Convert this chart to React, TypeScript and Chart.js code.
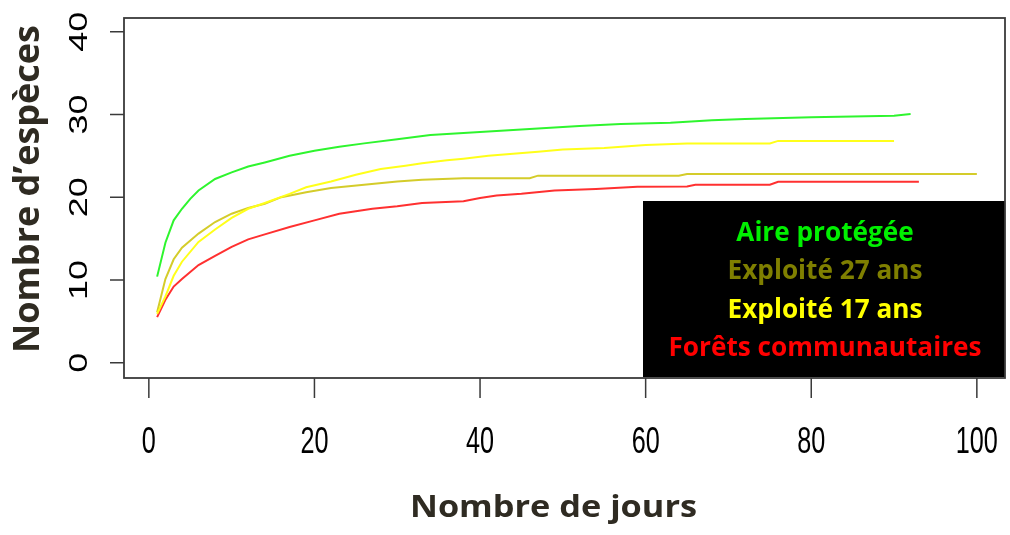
import React, { useEffect, useRef } from "react";
import { Chart, registerables } from "chart.js";

Chart.register(...registerables);

// ---- Data ----
const xTickValues = [0, 20, 40, 60, 80, 100];
const yTickValues = [0, 10, 20, 30, 40];
const xTitle = "Nombre de jours";
const yTitle = "Nombre d\u2019esp\u00e8ces";
const seriesNames = ["Aire prot\u00e9g\u00e9e", "Exploit\u00e9 27 ans", "Exploit\u00e9 17 ans", "For\u00eats communautaires"];

const aireDays = [1, 2, 3, 4, 5, 6, 8, 10, 12, 14, 17, 20, 23, 26, 30, 34, 38, 42, 47, 52, 57, 63, 68, 72, 80, 90, 92];
const aireValues = [10.4, 14.5, 17.2, 18.6, 19.8, 20.8, 22.2, 23.0, 23.7, 24.2, 25.0, 25.6, 26.1, 26.5, 27.0, 27.5, 27.75, 28.0, 28.3, 28.6, 28.85, 29.0, 29.3, 29.45, 29.65, 29.85, 30.05];

const exp27Days = [1, 2, 3, 4, 6, 8, 10, 12, 14, 16, 19, 22, 26, 30, 33, 38, 46, 47, 64, 65, 100];
const exp27Values = [6.1, 10.1, 12.5, 13.9, 15.6, 17.0, 18.0, 18.7, 19.2, 20.0, 20.6, 21.1, 21.5, 21.9, 22.1, 22.3, 22.3, 22.6, 22.6, 22.8, 22.8];

const exp17Days = [1, 2, 3, 4, 6, 8, 10, 12, 14, 17, 19, 22, 25, 28, 31, 33, 36, 38, 41, 44, 47, 50, 55, 60, 65, 75, 76, 90];
const exp17Values = [5.9, 8.0, 10.5, 12.2, 14.6, 16.1, 17.5, 18.6, 19.3, 20.4, 21.2, 21.9, 22.7, 23.4, 23.8, 24.1, 24.45, 24.65, 25.0, 25.25, 25.5, 25.75, 25.95, 26.3, 26.5, 26.5, 26.8, 26.8];

const foretDays = [1, 2, 3, 4, 6, 8, 10, 12, 14, 17, 20, 23, 27, 30, 33, 38, 40, 42, 45, 49, 54, 59, 65, 66, 75, 76, 93];
const foretValues = [5.5, 7.6, 9.2, 10.1, 11.8, 12.9, 14.0, 14.9, 15.5, 16.4, 17.2, 18.0, 18.6, 18.9, 19.3, 19.5, 19.9, 20.2, 20.4, 20.8, 21.0, 21.25, 21.3, 21.5, 21.5, 21.85, 21.85];

const lineColors = ["#2ef52e", "#d4cc2a", "#ffff1a", "#ff3030"];
const legendColors = ["#00f000", "#7f7f00", "#ffff00", "#ff0000"];

const toPoints = (xs: number[], ys: number[]) => xs.map((x, i) => ({ x, y: ys[i] }));

const SQUISH = 0.7;

const decorPlugin = {
  id: "rstyle",
  afterDraw(chart: any) {
    const ctx: CanvasRenderingContext2D = chart.ctx;
    const xs = chart.scales.x;
    const ys = chart.scales.y;
    const area = chart.chartArea;
    const axisCol = "#3a3a3a";

    // Legend box
    const lx0 = 643, ly0 = 201, lx1 = 1005, ly1 = 377;
    ctx.save();
    ctx.fillStyle = "#000000";
    ctx.fillRect(lx0, ly0, lx1 - lx0, ly1 - ly0);
    const legF = 26;
    ctx.font = `bold ${legF}px "Open Sans"`;
    let maxW = 0;
    seriesNames.forEach((n) => (maxW = Math.max(maxW, ctx.measureText(n).width)));
    const legScale = 313 / maxW;
    const baselines = [240.5, 279, 317.5, 356];
    // legend order: Aire, 27, 17, Forets
    seriesNames.forEach((n, i) => {
      ctx.save();
      ctx.translate(825, baselines[i]);
      ctx.scale(legScale, 1);
      ctx.fillStyle = legendColors[i];
      ctx.textAlign = "center";
      ctx.textBaseline = "alphabetic";
      ctx.fillText(n, 0, 0);
      ctx.restore();
    });
    ctx.restore();

    // Box
    ctx.save();
    ctx.strokeStyle = axisCol;
    ctx.lineWidth = 1.8;
    ctx.strokeRect(area.left, area.top, area.right - area.left, area.bottom - area.top);

    // X ticks
    ctx.lineWidth = 1.5;
    ctx.beginPath();
    xTickValues.forEach((v) => {
      const px = xs.getPixelForValue(v);
      ctx.moveTo(px, area.bottom);
      ctx.lineTo(px, area.bottom + 20);
    });
    yTickValues.forEach((v) => {
      const py = ys.getPixelForValue(v);
      ctx.moveTo(area.left, py);
      ctx.lineTo(area.left - 14, py);
    });
    ctx.stroke();

    // Tick labels
    const tF = 36;
    const capH = tF * 0.716;
    ctx.fillStyle = "#000000";
    ctx.font = `${tF}px "Liberation Sans"`;
    ctx.textAlign = "center";
    ctx.textBaseline = "alphabetic";
    xTickValues.forEach((v) => {
      const px = xs.getPixelForValue(v);
      ctx.save();
      ctx.translate(px, 440 + capH / 2);
      ctx.scale(SQUISH, 1);
      ctx.fillText(String(v), 0, 0);
      ctx.restore();
    });
    yTickValues.forEach((v) => {
      const py = ys.getPixelForValue(v);
      ctx.save();
      ctx.translate(77.5, py);
      ctx.scale(SQUISH, 1);
      ctx.rotate(-Math.PI / 2);
      ctx.fillText(String(v), 0, capH / 2);
      ctx.restore();
    });

    // Axis titles
    ctx.fillStyle = "#2f2b22";
    const xtF = 30.4;
    ctx.font = `bold ${xtF}px "Open Sans"`;
    const xtW = ctx.measureText(xTitle).width;
    ctx.save();
    ctx.translate(553.5, 516.7);
    ctx.scale(287 / xtW, 1);
    ctx.textAlign = "center";
    ctx.fillText(xTitle, 0, 0);
    ctx.restore();

    const ytF = 36;
    ctx.font = `bold ${ytF}px "Open Sans"`;
    const ytW = ctx.measureText(yTitle).width;
    ctx.save();
    ctx.translate(39, 189);
    ctx.rotate(-Math.PI / 2);
    ctx.scale(328 / ytW, 1);
    ctx.textAlign = "center";
    ctx.fillText(yTitle, 0, 0);
    ctx.restore();

    ctx.restore();
  },
};

export default function App() {
  const canvasRef = useRef<HTMLCanvasElement | null>(null);

  useEffect(() => {
    if (!canvasRef.current) return;
    const mk = (label: string, xsArr: number[], ysArr: number[], color: string) => ({
      label,
      data: toPoints(xsArr, ysArr),
      borderColor: color,
      backgroundColor: color,
      borderWidth: 2,
      pointRadius: 0,
      tension: 0,
      fill: false,
    });
    const chart = new Chart(canvasRef.current, {
      type: "line",
      data: {
        datasets: [
          mk(seriesNames[0], aireDays, aireValues, lineColors[0]),
          mk(seriesNames[2], exp17Days, exp17Values, lineColors[2]),
          mk(seriesNames[1], exp27Days, exp27Values, lineColors[1]),
          mk(seriesNames[3], foretDays, foretValues, lineColors[3]),
        ],
      },
      options: {
        animation: false,
        responsive: false,
        devicePixelRatio: 1,
        layout: { padding: { left: 124, top: 18, right: 5, bottom: 157 } },
        plugins: { legend: { display: false }, tooltip: { enabled: false } },
        scales: {
          x: { type: "linear", min: -3.0, max: 103.4, display: false },
          y: { type: "linear", min: -1.85, max: 41.65, display: false },
        },
      },
      plugins: [decorPlugin],
    } as any);
    return () => chart.destroy();
  }, []);

  return (
    <div style={{ position: "fixed", left: 0, top: 0, width: 1010, height: 535, background: "#ffffff" }}>
      <canvas ref={canvasRef} width={1010} height={535} style={{ width: 1010, height: 535, display: "block" }} />
    </div>
  );
}
